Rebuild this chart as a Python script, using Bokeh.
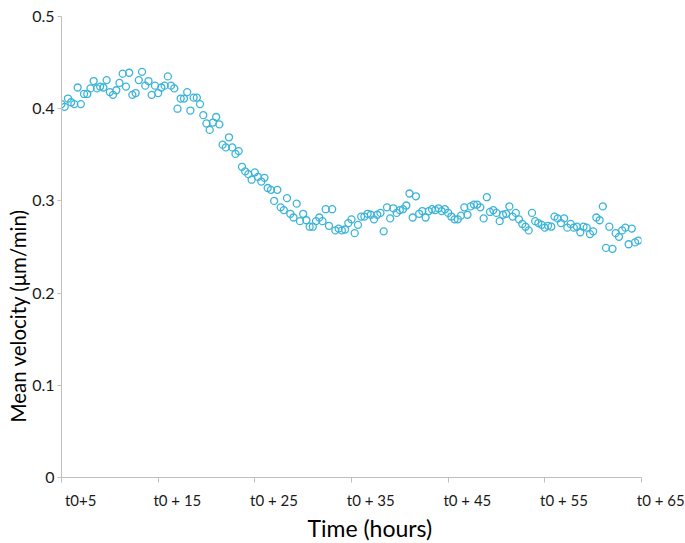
from bokeh.plotting import figure
from bokeh.models import FixedTicker, Title
from bokeh.embed import file_html
from bokeh.resources import INLINE

# Time in hours after t0 (sampling every 20 min)
time_h = [
    5.00, 5.33, 5.67, 6.00, 6.33, 6.67, 7.00, 7.33, 7.67, 8.00, 8.33, 8.67,
    9.00, 9.33, 9.67, 10.00, 10.33, 10.67, 11.00, 11.33, 11.67, 12.00, 12.33, 12.67,
    13.00, 13.33, 13.67, 14.00, 14.33, 14.67, 15.00, 15.33, 15.67, 16.00, 16.33, 16.67,
    17.00, 17.33, 17.67, 18.00, 18.33, 18.67, 19.00, 19.33, 19.67, 20.00, 20.33, 20.67,
    21.00, 21.33, 21.67, 22.00, 22.33, 22.67, 23.00, 23.33, 23.67, 24.00, 24.33, 24.67,
    25.00, 25.33, 25.67, 26.00, 26.33, 26.67, 27.00, 27.33, 27.67, 28.00, 28.33, 28.67,
    29.00, 29.33, 29.67, 30.00, 30.33, 30.67, 31.00, 31.33, 31.67, 32.00, 32.33, 32.67,
    33.00, 33.33, 33.67, 34.00, 34.33, 34.67, 35.00, 35.33, 35.67, 36.00, 36.33, 36.67,
    37.00, 37.33, 37.67, 38.00, 38.33, 38.67, 39.00, 39.33, 39.67, 40.00, 40.33, 40.67,
    41.00, 41.33, 41.67, 42.00, 42.33, 42.67, 43.00, 43.33, 43.67, 44.00, 44.33, 44.67,
    45.00, 45.33, 45.67, 46.00, 46.33, 46.67, 47.00, 47.33, 47.67, 48.00, 48.33, 48.67,
    49.00, 49.33, 49.67, 50.00, 50.33, 50.67, 51.00, 51.33, 51.67, 52.00, 52.33, 52.67,
    53.00, 53.33, 53.67, 54.00, 54.33, 54.67, 55.00, 55.33, 55.67, 56.00, 56.33, 56.67,
    57.00, 57.33, 57.67, 58.00, 58.33, 58.67, 59.00, 59.33, 59.67, 60.00, 60.33, 60.67,
    61.00, 61.33, 61.67, 62.00, 62.33, 62.67, 63.00, 63.33, 63.67, 64.00, 64.33, 64.67,
]

# Mean velocity (µm/min)
velocity = [
    0.405, 0.402, 0.411, 0.407, 0.405, 0.423, 0.405, 0.416, 0.416, 0.422, 0.430, 0.422,
    0.424, 0.423, 0.431, 0.418, 0.415, 0.420, 0.428, 0.438, 0.424, 0.439, 0.415, 0.417,
    0.431, 0.440, 0.425, 0.430, 0.415, 0.425, 0.417, 0.423, 0.425, 0.435, 0.425, 0.422,
    0.400, 0.411, 0.411, 0.418, 0.398, 0.412, 0.412, 0.405, 0.393, 0.384, 0.377, 0.385,
    0.391, 0.383, 0.361, 0.358, 0.369, 0.358, 0.351, 0.354, 0.337, 0.332, 0.329, 0.323,
    0.331, 0.326, 0.321, 0.325, 0.314, 0.312, 0.300, 0.312, 0.293, 0.290, 0.303, 0.286,
    0.282, 0.297, 0.278, 0.286, 0.279, 0.272, 0.272, 0.278, 0.282, 0.278, 0.291, 0.273,
    0.291, 0.268, 0.270, 0.268, 0.269, 0.276, 0.280, 0.265, 0.274, 0.283, 0.283, 0.286,
    0.285, 0.280, 0.285, 0.287, 0.267, 0.293, 0.281, 0.292, 0.287, 0.290, 0.291, 0.295,
    0.308, 0.282, 0.305, 0.286, 0.289, 0.282, 0.289, 0.291, 0.290, 0.292, 0.289, 0.291,
    0.287, 0.283, 0.280, 0.280, 0.284, 0.293, 0.285, 0.294, 0.296, 0.296, 0.293, 0.281,
    0.304, 0.288, 0.290, 0.287, 0.278, 0.285, 0.286, 0.294, 0.283, 0.287, 0.280, 0.275,
    0.272, 0.268, 0.287, 0.278, 0.276, 0.274, 0.271, 0.273, 0.272, 0.283, 0.281, 0.276,
    0.281, 0.271, 0.275, 0.271, 0.272, 0.266, 0.272, 0.271, 0.264, 0.267, 0.282, 0.279,
    0.294, 0.249, 0.272, 0.248, 0.265, 0.261, 0.268, 0.271, 0.253, 0.270, 0.255, 0.257,
]

x_ticks = [5, 15, 25, 35, 45, 55, 65]
x_tick_labels = ["t0+5", "t0 + 15", "t0 + 25", "t0 + 35", "t0 + 45", "t0 + 55", "t0 + 65"]
y_ticks = [0, 0.1, 0.2, 0.3, 0.4, 0.5]
y_tick_labels = ["0", "0.1", "0.2", "0.3", "0.4", "0.5"]

FONT = "Lato"
AXIS_GRAY = "#BFBFBF"
TEXT = "#1a1a1a"
POINT = "#3BB4D8"
PAD = "\u00a0" * 10  # labels sit a little right of their tick marks

p = figure(width=685, height=543, x_range=(5, 65), y_range=(0, 0.5),
           output_backend="svg", toolbar_location=None,
           min_border_left=61, min_border_right=44, min_border_top=16, min_border_bottom=66)
p.outline_line_color = None
p.grid.visible = False

xa = p.xaxis[0]
xa.ticker = FixedTicker(ticks=x_ticks)
xa.major_label_overrides = {t: PAD + l for t, l in zip(x_ticks, x_tick_labels)}
xa.major_label_standoff = 8
xa.major_label_text_font_size = "15px"
xa.major_tick_out = 5

ya = p.yaxis[0]
ya.ticker = FixedTicker(ticks=y_ticks)
ya.major_label_overrides = {t: l for t, l in zip(y_ticks, y_tick_labels)}
ya.major_label_standoff = 3
ya.major_label_text_font_size = "16px"
ya.major_tick_out = 4

for ax in (xa, ya):
    ax.axis_line_color = AXIS_GRAY
    ax.major_tick_line_color = AXIS_GRAY
    ax.minor_tick_line_color = None
    ax.major_tick_in = 0
    ax.major_label_text_font = FONT
    ax.major_label_text_color = TEXT

p.scatter(x=time_h, y=velocity, marker="circle", size=7, fill_color=None,
          line_color=POINT, line_width=1.3)

x_title = Title(text="Time (hours)", align="left", offset=246, text_font=FONT,
                text_font_size="23px", text_font_style="normal", text_color="black",
                standoff=0)
y_title = Title(text="Mean velocity (μm/min)", align="left", offset=55, text_font=FONT,
                text_font_size="20.5px", text_font_style="normal", text_color="black",
                standoff=0)
p.add_layout(x_title, "below")
p.add_layout(y_title, "left")

open("out.html", "w").write(file_html(p, INLINE))
